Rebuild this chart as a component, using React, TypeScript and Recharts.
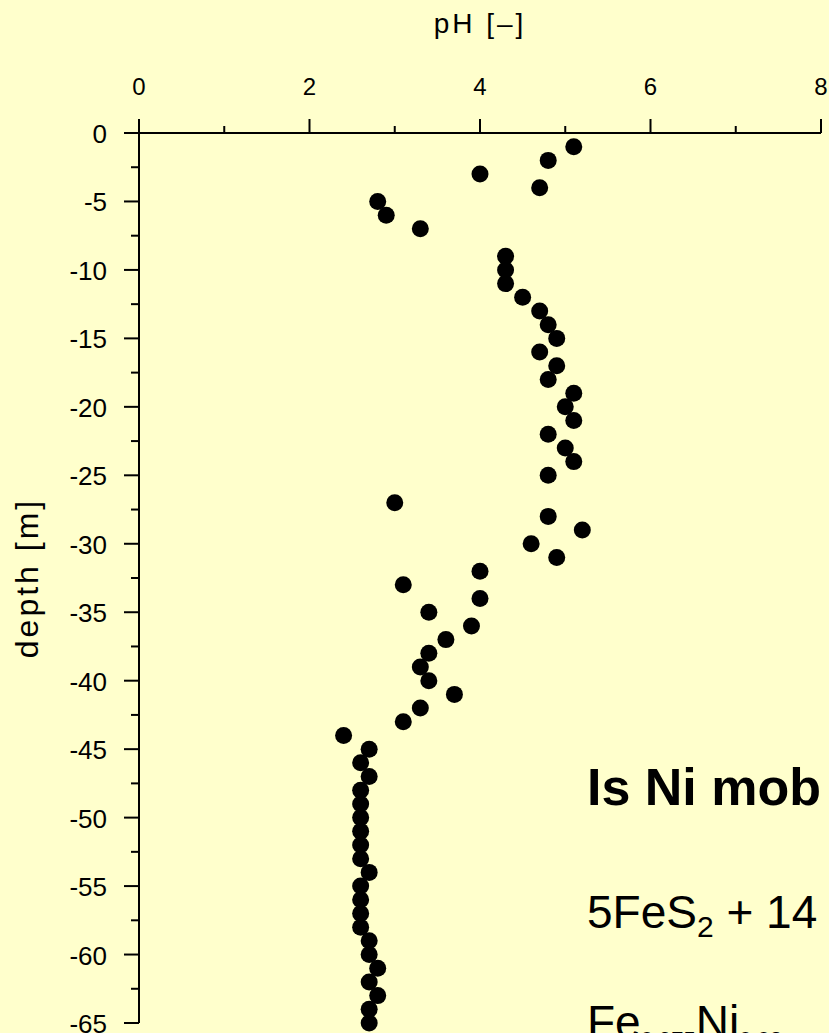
import * as React from "react";
import { ScatterChart, Scatter, XAxis, YAxis } from "recharts";

const depthM = [
  -1, -2, -3, -4, -5, -6, -7, -9, -10, -11, -12, -13, -14, -15, -16, -17, -18,
  -19, -20, -21, -22, -23, -24, -25, -27, -28, -29, -30, -31, -32, -33, -34,
  -35, -36, -37, -38, -39, -40, -41, -42, -43, -44, -45, -46, -47, -48, -49,
  -50, -51, -52, -53, -54, -55, -56, -57, -58, -59, -60, -61, -62, -63, -64, -65
];
const phValues = [
  5.1, 4.8, 4.0, 4.7, 2.8, 2.9, 3.3, 4.3, 4.3, 4.3, 4.5, 4.7, 4.8, 4.9, 4.7, 4.9, 4.8,
  5.1, 5.0, 5.1, 4.8, 5.0, 5.1, 4.8, 3.0, 4.8, 5.2, 4.6, 4.9, 4.0, 3.1, 4.0,
  3.4, 3.9, 3.6, 3.4, 3.3, 3.4, 3.7, 3.3, 3.1, 2.4, 2.7, 2.6, 2.7, 2.6, 2.6,
  2.6, 2.6, 2.6, 2.6, 2.7, 2.6, 2.6, 2.6, 2.6, 2.7, 2.7, 2.8, 2.7, 2.8, 2.7, 2.7
];
const phTicks = [0, 1, 2, 3, 4, 5, 6, 7, 8];
const depthTicks = [
  0, -2.5, -5, -7.5, -10, -12.5, -15, -17.5, -20, -22.5, -25, -27.5, -30, -32.5,
  -35, -37.5, -40, -42.5, -45, -47.5, -50, -52.5, -55, -57.5, -60, -62.5, -65
];

const data = depthM.map((d, i) => ({ depth: d, ph: phValues[i] }));

const FONT = "'Liberation Sans', Arial, sans-serif";
const BG = "#FFFFCC";

const PhTick = (props: any) => {
  const { x, y, payload } = props;
  const major = payload.value % 2 === 0;
  return (
    <g>
      <line x1={x} x2={x} y1={y} y2={y - (major ? 14 : 7)} stroke="#000" strokeWidth={2} />
      {major && (
        <text x={x} y={y - 38} textAnchor="middle" fontSize={24} fill="#000" fontFamily={FONT}>
          {payload.value}
        </text>
      )}
    </g>
  );
};

const DepthTick = (props: any) => {
  const { x, y, payload } = props;
  const major = Math.abs(payload.value % 5) < 1e-6;
  return (
    <g>
      <line x1={x} x2={x - (major ? 15 : 8)} y1={y} y2={y} stroke="#000" strokeWidth={2} />
      {major && (
        <text x={x - 32} y={y} dy={10} textAnchor="end" fontSize={26} fill="#000" fontFamily={FONT}>
          {payload.value}
        </text>
      )}
    </g>
  );
};

const Dot = (props: any) => <circle cx={props.cx} cy={props.cy} r={8.5} fill="#000" />;

export default function App() {
  return (
    <div
      style={{
        position: "absolute",
        left: 0,
        top: 0,
        width: 829,
        height: 1033,
        background: BG,
        overflow: "hidden",
        fontFamily: FONT
      }}
    >
      <ScatterChart width={829} height={1033} margin={{ top: 0, right: 8, bottom: 10, left: 0 }}>
        <XAxis
          type="number"
          dataKey="ph"
          orientation="top"
          domain={[0, 8]}
          ticks={phTicks}
          interval={0}
          height={133}
          tickSize={0}
          tickMargin={0}
          tickLine={false}
          tick={<PhTick />}
          axisLine={{ stroke: "#000", strokeWidth: 2 }}
          label={{
            value: "pH [–]",
            position: "insideTop",
            offset: 13,
            fontSize: 28,
            fill: "#000",
            fontFamily: FONT,
            letterSpacing: 3
          }}
        />
        <YAxis
          type="number"
          dataKey="depth"
          domain={[-65, 0]}
          ticks={depthTicks}
          interval={0}
          width={139}
          tickSize={0}
          tickMargin={0}
          tickLine={false}
          tick={<DepthTick />}
          axisLine={{ stroke: "#000", strokeWidth: 2 }}
          label={{
            value: "depth [m]",
            angle: -90,
            position: "insideLeft",
            offset: 27,
            fontSize: 32,
            fill: "#000",
            fontFamily: FONT,
            letterSpacing: 3,
            style: { textAnchor: "middle" }
          }}
        />
        <Scatter data={data} shape={<Dot />} isAnimationActive={false} />
      </ScatterChart>
      <svg
        width={829}
        height={1033}
        style={{ position: "absolute", left: 0, top: 0, pointerEvents: "none" }}
      >
        <text x={587} y={805} fontSize={52} fontWeight="bold" fill="#000" fontFamily={FONT}>
          Is Ni mob
        </text>
        <text x={587} y={928} fontSize={46} fill="#000" fontFamily={FONT}>
          5FeS
          <tspan fontSize={30} dy={9}>2</tspan>
          <tspan dy={-9}> + 14</tspan>
        </text>
        <text x={587} y={1038} fontSize={46} fill="#000" fontFamily={FONT}>
          Fe
          <tspan fontSize={22} dy={9}>0.975</tspan>
          <tspan dy={-9}>Ni</tspan>
          <tspan fontSize={22} dy={9}>0.02</tspan>
        </text>
      </svg>
    </div>
  );
}
